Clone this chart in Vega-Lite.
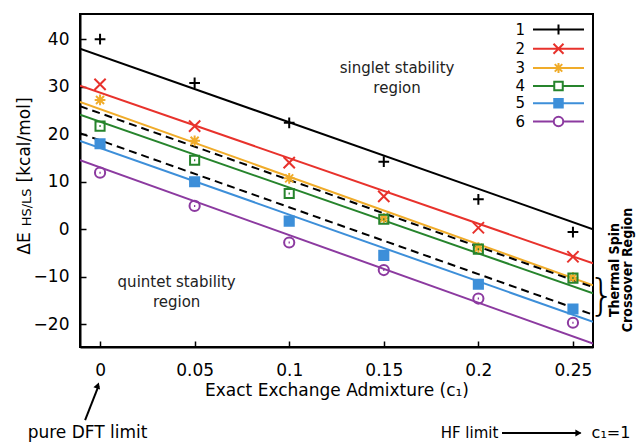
{
  "$schema": "https://vega.github.io/schema/vega-lite/v6.json",
  "width": 513,
  "height": 333,
  "autosize": {"type": "none"},
  "padding": {"left": 80, "top": 14, "right": 51, "bottom": 95},
  "background": "white",
  "config": {
    "view": {"stroke": "black", "strokeWidth": 2},
    "axis": {
      "domainColor": "black", "domainWidth": 2, "tickColor": "black", "tickWidth": 1.5, "tickSize": -6,
      "labelFont": "DejaVu Sans", "labelFontSize": 17, "labelColor": "black",
      "titleFont": "DejaVu Sans", "titleFontSize": 17, "titleColor": "black", "titleFontWeight": "normal", "grid": false
    },
    "text": {"font": "DejaVu Sans", "color": "black"}
  },
  "datasets": {
    "pts": [
      {"s": "1", "x": 0, "y": 40}, {"s": "1", "x": 0.05, "y": 30.8}, {"s": "1", "x": 0.1, "y": 22.4}, {"s": "1", "x": 0.15, "y": 14.2}, {"s": "1", "x": 0.2, "y": 6.3}, {"s": "1", "x": 0.25, "y": -0.6},
      {"s": "2", "x": 0, "y": 30.5}, {"s": "2", "x": 0.05, "y": 21.7}, {"s": "2", "x": 0.1, "y": 14.0}, {"s": "2", "x": 0.15, "y": 6.9}, {"s": "2", "x": 0.2, "y": 0.3}, {"s": "2", "x": 0.25, "y": -5.8},
      {"s": "3", "x": 0, "y": 27.2}, {"s": "3", "x": 0.05, "y": 18.6}, {"s": "3", "x": 0.1, "y": 10.7}, {"s": "3", "x": 0.15, "y": 2.3}, {"s": "3", "x": 0.2, "y": -3.9}, {"s": "3", "x": 0.25, "y": -10.2},
      {"s": "4", "x": 0, "y": 21.7}, {"s": "4", "x": 0.05, "y": 14.5}, {"s": "4", "x": 0.1, "y": 7.5}, {"s": "4", "x": 0.15, "y": 2.1}, {"s": "4", "x": 0.2, "y": -4.2}, {"s": "4", "x": 0.25, "y": -10.3},
      {"s": "5", "x": 0, "y": 18.0}, {"s": "5", "x": 0.05, "y": 10.0}, {"s": "5", "x": 0.1, "y": 1.7}, {"s": "5", "x": 0.15, "y": -5.5}, {"s": "5", "x": 0.2, "y": -11.6}, {"s": "5", "x": 0.25, "y": -16.8},
      {"s": "6", "x": 0, "y": 11.9}, {"s": "6", "x": 0.05, "y": 4.9}, {"s": "6", "x": 0.1, "y": -2.8}, {"s": "6", "x": 0.15, "y": -8.6}, {"s": "6", "x": 0.2, "y": -14.6}, {"s": "6", "x": 0.25, "y": -19.7}
    ],
    "fits": [
      {"s": "1", "x": -0.0106, "y": 38.0}, {"s": "1", "x": 0.2606, "y": 0.0},
      {"s": "2", "x": -0.0106, "y": 30.2}, {"s": "2", "x": 0.2606, "y": -7.2},
      {"s": "3", "x": -0.0106, "y": 26.8}, {"s": "3", "x": 0.2606, "y": -11.8},
      {"s": "4", "x": -0.0106, "y": 24.1}, {"s": "4", "x": 0.2606, "y": -13.5},
      {"s": "5", "x": -0.0106, "y": 18.6}, {"s": "5", "x": 0.2606, "y": -19.5},
      {"s": "6", "x": -0.0106, "y": 14.5}, {"s": "6", "x": 0.2606, "y": -24.1}
    ],
    "dashed": [
      {"d": "a", "x": -0.0106, "y": 25.9}, {"d": "a", "x": 0.2606, "y": -12.2},
      {"d": "b", "x": -0.0106, "y": 20.2}, {"d": "b", "x": 0.2606, "y": -18.0}
    ]
  },
  "resolve": {"scale": {"stroke": "independent", "fill": "independent", "shape": "independent"}},
  "encoding": {
    "x": {"field": "x", "type": "quantitative", "scale": {"domain": [-0.0106, 0.2606], "nice": false, "zero": false},
      "axis": {"values": [0, 0.05, 0.1, 0.15, 0.2, 0.25], "format": "~g", "labelPadding": 21, "titlePadding": 4, "title": "Exact Exchange Admixture (c₁)"}},
    "y": {"field": "y", "type": "quantitative", "scale": {"domain": [-24.8, 45.3], "nice": false, "zero": false},
      "axis": {"values": [-20, -10, 0, 10, 20, 30, 40], "format": "d", "labelPadding": 17, "title": null}}
  },
  "layer": [
    {
      "data": {"name": "fits"},
      "mark": {"type": "line", "strokeWidth": 2, "clip": true},
      "encoding": {
        "stroke": {"field": "s", "type": "nominal", "legend": null,
          "scale": {"domain": ["1", "2", "3", "4", "5", "6"], "range": ["#000000", "#e8322c", "#f0ac2a", "#26842c", "#3d8fd9", "#8c3aa0"]}}
      }
    },
    {
      "data": {"name": "dashed"},
      "mark": {"type": "line", "strokeWidth": 2, "strokeDash": [8, 5], "color": "black", "clip": true},
      "encoding": {"detail": {"field": "d", "type": "nominal"}}
    },
    {
      "data": {"name": "pts"},
      "mark": {"type": "point", "filled": false, "strokeWidth": 2, "size": 115, "opacity": 1, "clip": true},
      "encoding": {
        "stroke": {"field": "s", "type": "nominal", "legend": null,
          "scale": {"domain": ["1", "2", "3", "4", "5", "6"], "range": ["#000000", "#e8322c", "#f0ac2a", "#26842c", "#3d8fd9", "#8c3aa0"]}},
        "fill": {"field": "s", "type": "nominal", "legend": null,
          "scale": {"domain": ["1", "2", "3", "4", "5", "6"], "range": ["transparent", "transparent", "transparent", "transparent", "#3d8fd9", "transparent"]}},
        "shape": {"field": "s", "type": "nominal", "legend": null,
          "scale": {"domain": ["1", "2", "3", "4", "5", "6"], "range": [
            "M-1,0H1M0,-1V1",
            "M-1.05,-1.05L1.05,1.05M-1.05,1.05L1.05,-1.05",
            "M-1,0H1M0,-1V1M-0.75,-0.75L0.75,0.75M-0.75,0.75L0.75,-0.75",
            "M-0.85,-0.85H0.85V0.85H-0.85ZM-0.12,0H0.12",
            "M-0.85,-0.85H0.85V0.85H-0.85Z",
            "M0.95,0A0.95,0.95 0 1,1 -0.95,0A0.95,0.95 0 1,1 0.95,0ZM-0.12,0H0.12"
          ]}}
      }
    },
    {
      "data": {"name": "pts"},
      "mark": {"type": "point", "filled": false, "strokeWidth": 2, "size": 100, "opacity": 0},
      "encoding": {
        "stroke": {"field": "s", "type": "nominal",
          "legend": {"orient": "none", "legendX": 471, "legendY": 8, "title": null, "labelAlign": "right", "labelOffset": -41, "symbolSize": 100, "symbolStrokeWidth": 2, "symbolOpacity": 1, "labelFontSize": 15, "labelFont": "DejaVu Sans", "labelColor": "black", "rowPadding": 0.2, "padding": 0},
          "scale": {"domain": ["1", "2", "3", "4", "5", "6"], "range": ["#000000", "#e8322c", "#f0ac2a", "#26842c", "#3d8fd9", "#8c3aa0"]}},
        "fill": {"field": "s", "type": "nominal",
          "legend": {"orient": "none", "legendX": 471, "legendY": 8, "title": null, "labelAlign": "right", "labelOffset": -41, "symbolSize": 100, "symbolStrokeWidth": 2, "symbolOpacity": 1, "labelFontSize": 15, "labelFont": "DejaVu Sans", "labelColor": "black", "rowPadding": 0.2, "padding": 0},
          "scale": {"domain": ["1", "2", "3", "4", "5", "6"], "range": ["transparent", "transparent", "transparent", "transparent", "#3d8fd9", "transparent"]}},
        "shape": {"field": "s", "type": "nominal",
          "legend": {"orient": "none", "legendX": 471, "legendY": 8, "title": null, "labelAlign": "right", "labelOffset": -41, "symbolSize": 100, "symbolStrokeWidth": 2, "symbolOpacity": 1, "labelFontSize": 15, "labelFont": "DejaVu Sans", "labelColor": "black", "rowPadding": 0.2, "padding": 0},
          "scale": {"domain": ["1", "2", "3", "4", "5", "6"], "range": [
            "M-5.1,0H5.1M0,-1V1",
            "M-5.1,0H5.1M-1,-1L1,1M-1,1L1,-1",
            "M-5.1,0H5.1M0,-1V1M-0.75,-0.75L0.75,0.75M-0.75,0.75L0.75,-0.75",
            "M-5.1,0H-0.85M0.85,0H5.1M-0.85,-0.85H0.85V0.85H-0.85Z",
            "M-5.1,0H-0.85M0.85,0H5.1M-0.85,-0.85H0.85V0.85H-0.85Z",
            "M-5.1,0H-0.95M0.95,0H5.1M0.95,0A0.95,0.95 0 1,1 -0.95,0A0.95,0.95 0 1,1 0.95,0Z"
          ]}}
      }
    },
    {
      "data": {"values": [
        {"t": "singlet stability\nregion", "x": 0.157, "y": 33.9},
        {"t": "quintet stability\nregion", "x": 0.0405, "y": -11.2}
      ]},
      "mark": {"type": "text", "fontSize": 15, "lineBreak": "\n", "lineHeight": 20, "align": "center", "baseline": "middle", "color": "#222222"},
      "encoding": {"text": {"field": "t"}}
    },
    {
      "data": {"values": [
        {"t": "ΔE", "x": -0.0395, "y": -3.0, "f": 17},
        {"t": "HS/LS", "x": -0.0385, "y": 4.6, "f": 13},
        {"t": "[kcal/mol]", "x": -0.0395, "y": 18.8, "f": 17}
      ]},
      "mark": {"type": "text", "angle": 270, "align": "center", "baseline": "middle"},
      "encoding": {"text": {"field": "t"}, "size": {"field": "f", "type": "quantitative", "scale": null}}
    },
    {
      "data": {"values": [{"t": "Thermal Spin\nCrossover Region", "x": 0.2722, "y": -8.6}]},
      "mark": {"type": "text", "angle": 270, "align": "center", "baseline": "middle", "fontSize": 14, "fontWeight": "bold", "font": "Liberation Sans Narrow, DejaVu Sans Condensed, Liberation Sans", "lineBreak": "\n", "lineHeight": 13},
      "encoding": {"text": {"field": "t"}}
    },
    {
      "data": {"values": [{"t": "}", "x": 0.2653, "y": -14.3}]},
      "mark": {"type": "text", "align": "center", "baseline": "middle", "fontSize": 42, "fontWeight": 200},
      "encoding": {"text": {"field": "t"}}
    },
    {
      "data": {"values": [
        {"t": "pure DFT limit", "x": -0.0066, "y": -42.9, "f": 17},
        {"t": "HF limit", "x": 0.1953, "y": -42.9, "f": 15},
        {"t": "c₁=1", "x": 0.2701, "y": -42.9, "f": 16}
      ]},
      "mark": {"type": "text", "align": "center", "baseline": "middle"},
      "encoding": {"text": {"field": "t"}, "size": {"field": "f", "type": "quantitative", "scale": null}}
    },
    {
      "data": {"values": [
        {"x": -0.0079, "y": -40.2, "x2": -0.0008, "y2": -33.0},
        {"x": 0.2125, "y": -42.9, "x2": 0.2540, "y2": -42.9}
      ]},
      "mark": {"type": "rule", "strokeWidth": 2, "color": "black"},
      "encoding": {"x2": {"field": "x2"}, "y2": {"field": "y2"}}
    },
    {
      "data": {"values": [
        {"x": -0.0012, "y": -32.9, "a": 20},
        {"x": 0.2529, "y": -42.9, "a": 90}
      ]},
      "mark": {"type": "point", "shape": "triangle-up", "filled": true, "color": "black", "size": 50, "opacity": 1},
      "encoding": {"angle": {"field": "a", "type": "quantitative", "scale": null}}
    }
  ]
}
